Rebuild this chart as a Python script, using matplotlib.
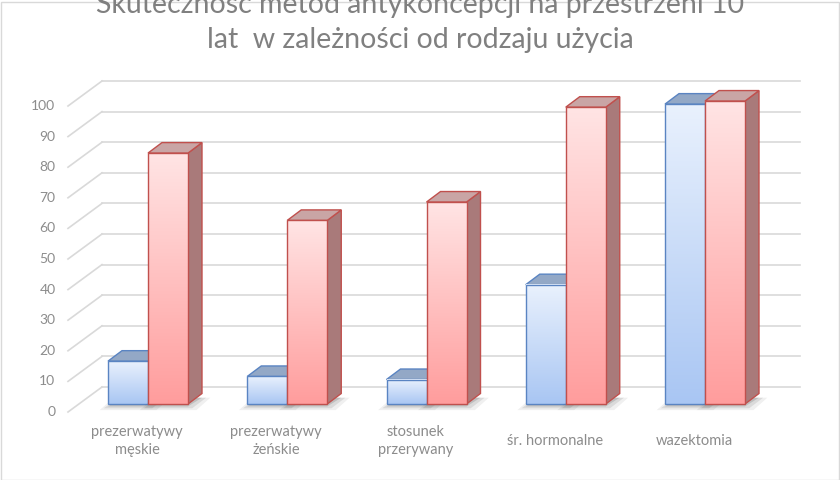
import numpy as np
import matplotlib.pyplot as plt
from matplotlib.patches import Polygon, Rectangle
from matplotlib.colors import LinearSegmentedColormap

plt.rcParams['font.family'] = ['Lato', 'DejaVu Sans']

# %% data
categories = ["prezerwatywy\nmęskie", "prezerwatywy\nżeńskie", "stosunek\nprzerywany",
              "śr. hormonalne", "wazektomia"]
blue_values = [14, 9, 8, 39, 98]
red_values = [82, 60, 66, 97, 99]
y_ticks = np.arange(0, 101, 10)
title_line1 = "Skuteczność metod antykoncepcji na przestrzeni 10"
title_line2 = "lat  w zależności od rodzaju użycia"

# %% layout, calibrated in pixels of the 840x480 picture
W, H = 840, 480
x0_px, step_px = 148, 139.25   # first category centre, spacing between categories
y0_px, unit_px = 404, 3.06     # value 0 on the bar plane, pixels per value unit

bar_w = 40 / step_px
bar_dx, bar_dy = 14 / step_px, 10.5 / unit_px      # depth of one bar
wall_dx, wall_dy = 23 / step_px, 17 / unit_px      # bar plane -> back wall
front_dx, front_dy = -11 / step_px, -8 / unit_px   # bar plane -> front edge
grid_left = (102 - x0_px) / step_px
grid_right = (800 - x0_px) / step_px

TEXT_GREY = "#8c8c8c"
GRID = "#d9d9d9"

blue_style = dict(cmap=LinearSegmentedColormap.from_list("b", ["#a9c6f3", "#e9f1fd"]),
                  edge="#5a84c2", top="#93a8c6", side="#8397b6")
red_style = dict(cmap=LinearSegmentedColormap.from_list("r", ["#ff9d9d", "#ffe4e4"]),
                 edge="#c0504d", top="#c9a5a5", side="#a97a7a")


def draw_bar(ax, x_left, value, style, z):
    x_right = x_left + bar_w
    # soft shadow on the floor
    for k, a in enumerate([0.08, 0.12, 0.18]):
        g = 0.03 * (2 - k)
        ax.add_patch(Polygon([(x_left - g, -0.8 - g * 20), (x_right + g, -0.8 - g * 20),
                              (x_right + bar_dx + g, bar_dy * 0.6), (x_left + bar_dx - g, bar_dy * 0.6)],
                             closed=True, facecolor="#404040", edgecolor="none", alpha=a, zorder=z - 0.5))
    # side face
    ax.add_patch(Polygon([(x_right, 0), (x_right + bar_dx, bar_dy),
                          (x_right + bar_dx, value + bar_dy), (x_right, value)],
                         closed=True, facecolor=style["side"], edgecolor=style["edge"], lw=1.0, zorder=z))
    # top face
    ax.add_patch(Polygon([(x_left, value), (x_right, value),
                          (x_right + bar_dx, value + bar_dy), (x_left + bar_dx, value + bar_dy)],
                         closed=True, facecolor=style["top"], edgecolor=style["edge"], lw=1.0, zorder=z))
    # front face with vertical gradient
    grad = np.linspace(0, 1, 100).reshape(-1, 1)
    ax.imshow(grad, extent=(x_left, x_right, 0, value), origin="lower", aspect="auto",
              cmap=style["cmap"], zorder=z + 0.1, interpolation="bilinear")
    ax.add_patch(Rectangle((x_left, 0), bar_w, value, facecolor="none",
                           edgecolor=style["edge"], lw=1.0, zorder=z + 0.2))


fig = plt.figure(figsize=(W / 100, H / 100), dpi=100)
ax = fig.add_axes([0, 0, 1, 1])
ax.set_xlim(-x0_px / step_px, (W - x0_px) / step_px)
ax.set_ylim((y0_px - H) / unit_px, y0_px / unit_px)
ax.axis("off")

# back wall gridlines and the short diagonals on the left side
for v in y_ticks:
    ax.plot([grid_left, grid_right], [v + wall_dy, v + wall_dy], color=GRID, lw=1.2, zorder=1)
    ax.plot([grid_left + front_dx - wall_dx, grid_left], [v + front_dy, v + wall_dy],
            color=GRID, lw=1.2, zorder=1)
    ax.text(grid_left + front_dx - wall_dx - 0.09, v + front_dy, str(v), ha="right", va="center",
            fontsize=10, color=TEXT_GREY)

# bars
x = np.arange(len(categories))
for i in x:
    draw_bar(ax, i - bar_w, blue_values[i], blue_style, z=3 + 2 * i)
    draw_bar(ax, i, red_values[i], red_style, z=4 + 2 * i)
    ax.text(i + front_dx, -12.1, categories[i], ha="center", va="center",
            fontsize=10.5, color=TEXT_GREY, linespacing=1.3)

# title (the first line is cut at the top edge, as in the original)
fig.text(0.5, 1 - 5 / H, title_line1, ha="center", va="center", fontsize=20.5, color="#808080")
fig.text(0.5, 1 - 40 / H, title_line2, ha="center", va="center", fontsize=20.5, color="#808080")

# chart border
fig.patches.append(Rectangle((0.5 / W, 0.5 / H), 1 - 2 / W, 1 - 2 / H, transform=fig.transFigure,
                             fill=False, edgecolor=GRID, lw=1.0))

fig.savefig("out.png", dpi=100)
